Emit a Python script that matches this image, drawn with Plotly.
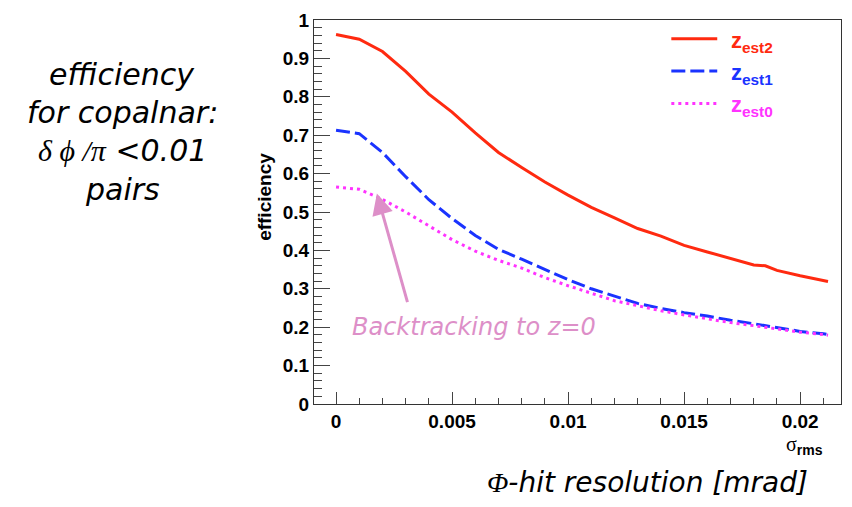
import plotly.graph_objects as go

# sigma_rms values (x) and efficiencies for the three z estimates
sigma_rms = [0.0, 0.001, 0.002, 0.003, 0.004, 0.005, 0.006, 0.007, 0.008, 0.009,
             0.010, 0.011, 0.012, 0.013, 0.014, 0.015, 0.016, 0.017, 0.018, 0.0185,
             0.019, 0.020, 0.021, 0.0212]
eff_zest2 = [0.962, 0.950, 0.918, 0.866, 0.807, 0.760, 0.706, 0.655, 0.616, 0.578,
             0.544, 0.512, 0.485, 0.457, 0.437, 0.413, 0.396, 0.380, 0.362, 0.360,
             0.348, 0.334, 0.322, 0.319]
eff_zest1 = [0.713, 0.704, 0.655, 0.592, 0.532, 0.483, 0.439, 0.403, 0.377, 0.350,
             0.324, 0.300, 0.280, 0.262, 0.249, 0.238, 0.229, 0.218, 0.209, 0.204,
             0.199, 0.189, 0.183, 0.181]
eff_zest0 = [0.565, 0.559, 0.533, 0.500, 0.464, 0.428, 0.398, 0.374, 0.354, 0.329,
             0.308, 0.288, 0.269, 0.256, 0.243, 0.232, 0.222, 0.212, 0.204, 0.200,
             0.195, 0.187, 0.181, 0.179]

x_ticks = [0, 0.005, 0.01, 0.015, 0.02]
x_tick_labels = ["0", "0.005", "0.01", "0.015", "0.02"]
y_ticks = [0, 0.1, 0.2, 0.3, 0.4, 0.5, 0.6, 0.7, 0.8, 0.9, 1.0]
y_tick_labels = ["0", "0.1", "0.2", "0.3", "0.4", "0.5", "0.6", "0.7", "0.8", "0.9", "1"]

series = [
    ("z<sub>est2</sub>", eff_zest2, "#ff2a10", "solid"),
    ("z<sub>est1</sub>", eff_zest1, "#1a33ff", "14px,5px"),
    ("z<sub>est0</sub>", eff_zest0, "#ff33ff", "3px,4px"),
]

caption_lines = [
    "efficiency",
    "for copalnar:",
    "<span style='font-family:Liberation Serif, serif'>δ ϕ /π</span> &lt;0.01",
    "pairs",
]

W, H = 852, 507
L, R, T, B = 314, 842, 13, 404


def px(x):
    return (x - L) / (R - L)


def py(y):
    return (B - y) / (B - T)


fig = go.Figure()
for name, vals, color, dash in series:
    fig.add_trace(go.Scatter(x=sigma_rms, y=vals, mode="lines", name=name,
                             line=dict(color=color, width=3, dash=dash),
                             showlegend=False))

sans = "Liberation Sans, Arial, sans-serif"
tick_font = dict(family=sans, size=19, color="black", weight="bold")

fig.update_layout(
    width=W, height=H,
    margin=dict(l=L, r=W - R, t=T, b=H - B),
    paper_bgcolor="white", plot_bgcolor="white",
    xaxis=dict(range=[-0.00095, 0.02176], tickvals=x_ticks, ticktext=x_tick_labels,
               ticks="inside", ticklen=12, tickwidth=1, tickcolor="#444",
               showline=True, mirror=True, linecolor="#333", linewidth=1,
               showgrid=False, zeroline=False, tickfont=tick_font,
               minor=dict(dtick=0.001, tick0=0, ticks="inside", ticklen=6,
                          tickcolor="#444", showgrid=False)),
    yaxis=dict(range=[0, 1], tickvals=y_ticks, ticktext=y_tick_labels,
               ticks="inside", ticklen=16, tickwidth=1, tickcolor="#444",
               showline=True, mirror=True, linecolor="#333", linewidth=1,
               showgrid=False, zeroline=False, tickfont=tick_font,
               minor=dict(dtick=0.02, tick0=0, ticks="inside", ticklen=8,
                          tickcolor="#444", showgrid=False)),
)

# y-axis title
fig.add_annotation(text="efficiency", xref="paper", yref="paper",
                   x=px(265), y=py(193), xanchor="center", yanchor="middle",
                   textangle=-90, showarrow=False,
                   font=dict(family=sans, size=19, color="black", weight="bold"))

# x-axis title at the right end
fig.add_annotation(text="σ<sub><span style='font-family:Liberation Sans, sans-serif'><b>rms</b></span></sub>",
                   xref="paper", yref="paper",
                   x=px(785), y=py(446), xanchor="left", yanchor="middle",
                   showarrow=False,
                   font=dict(family="Liberation Serif, Times New Roman, serif",
                             size=20, color="black"))

# legend drawn by hand: line sample + coloured label
legend_y = [32, 65, 98]
for (name, vals, color, dash), ly in zip(series, legend_y):
    fig.add_shape(type="line", xref="paper", yref="paper",
                  x0=px(672), x1=px(718), y0=py(ly), y1=py(ly),
                  line=dict(color=color, width=3, dash=dash))
    fig.add_annotation(text=name, xref="paper", yref="paper",
                       x=px(730), y=py(ly + 3), xanchor="left", yanchor="middle",
                       showarrow=False,
                       font=dict(family=sans, size=22, color=color, weight="bold"))

note_font = "DejaVu Sans, sans-serif"

# side caption, one line per annotation
for line, ly in zip(caption_lines, [68, 107, 146, 186]):
    fig.add_annotation(text=line, xref="paper", yref="paper", x=px(122), y=py(ly),
                       xanchor="center", yanchor="middle", showarrow=False,
                       font=dict(family=note_font, size=30, color="black",
                                 style="italic"))

# bottom caption
fig.add_annotation(
    text="<span style='font-family:Liberation Serif, serif'>Φ</span>-hit resolution [mrad]",
    xref="paper", yref="paper", x=px(648), y=py(484),
    xanchor="center", yanchor="middle", showarrow=False,
    font=dict(family=note_font, size=28, color="black", style="italic"))

# arrow pointing at the z_est0 curve
fig.add_annotation(text="", x=0.00176, y=0.548, xref="x", yref="y",
                   ax=31, ay=110, showarrow=True, arrowhead=2, arrowsize=1.4,
                   arrowwidth=3, arrowcolor="#dd8fc8")
fig.add_annotation(text="Backtracking to z=0", xref="paper", yref="paper",
                   x=px(474), y=py(326), xanchor="center", yanchor="middle",
                   showarrow=False,
                   font=dict(family=note_font, size=24, color="#dd8fc8",
                             style="italic"))

fig.write_html("out.html")
